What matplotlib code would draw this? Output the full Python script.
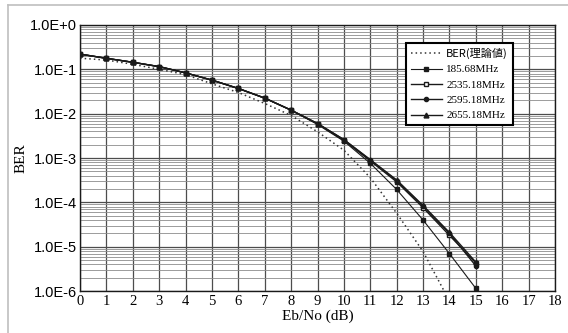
import numpy as np
import matplotlib
matplotlib.use("Agg")
import matplotlib.pyplot as plt
from matplotlib.lines import Line2D
from matplotlib.ticker import LogLocator, NullFormatter

# data
ebno = [0, 1, 2, 3, 4, 5, 6, 7, 8, 9, 10, 11, 12, 13, 14, 15]
ber_185 = [0.22, 0.177, 0.144, 0.115, 0.083, 0.057, 0.037, 0.0224, 0.012,
           0.0057, 0.0024, 7.6e-4, 1.95e-4, 4.0e-5, 7.0e-6, 1.15e-6]
ber_2535 = [0.22, 0.177, 0.144, 0.115, 0.083, 0.057, 0.037, 0.0224, 0.012,
            0.0059, 0.0025, 8.6e-4, 2.9e-4, 7.6e-5, 1.8e-5, 4.3e-6]
ber_2595 = [0.22, 0.177, 0.144, 0.115, 0.083, 0.057, 0.037, 0.0224, 0.012,
            0.006, 0.0026, 9.0e-4, 3.1e-4, 8.2e-5, 2.0e-5, 3.7e-6]
ber_2655 = [0.22, 0.177, 0.144, 0.115, 0.083, 0.057, 0.037, 0.0224, 0.012,
            0.006, 0.0026, 9.2e-4, 3.2e-4, 8.5e-5, 2.1e-5, 4.5e-6]

theory_x = [0, 1, 2, 3, 4, 5, 6, 7, 8, 9, 10, 11, 12, 13, 13.8]
theory_ber = [0.178, 0.162, 0.13, 0.1, 0.076, 0.047, 0.030, 0.017, 0.0091,
              0.0039, 0.0015, 3.6e-4, 5.7e-5, 7.8e-6, 1.0e-6]

ytick_vals = [1e0, 1e-1, 1e-2, 1e-3, 1e-4, 1e-5, 1e-6]
ytick_labels = ["1.0E+0", "1.0E-1", "1.0E-2", "1.0E-3", "1.0E-4", "1.0E-5", "1.0E-6"]
xticks = list(range(0, 19))

fig = plt.figure(figsize=(5.68, 3.33), dpi=100)
ax = fig.add_axes([0.141, 0.126, 0.836, 0.799])

# light frame of the scanned page
fig.add_artist(Line2D([8 / 568, 8 / 568], [0, 1 - 5 / 333], color="0.75", lw=1.2))
fig.add_artist(Line2D([8 / 568, 1], [1 - 5 / 333, 1 - 5 / 333], color="0.75", lw=1.2))

ax.set_yscale("log")
ax.set_xlim(0, 18)
ax.set_ylim(1e-6, 1e0)

ax.plot(theory_x, theory_ber, linestyle=(0, (1, 2)), color="0.2", lw=1.1,
        label="BER(理論値)")
ax.plot(ebno, ber_185, "-s", color="0.1", lw=0.8, ms=3.5, label="185.68MHz")
ax.plot(ebno, ber_2535, "-s", color="0.1", lw=1.0, ms=3.5, mfc="white",
        label="2535.18MHz")
ax.plot(ebno, ber_2595, "-o", color="0.1", lw=1.0, ms=3.0, label="2595.18MHz")
ax.plot(ebno, ber_2655, "-^", color="0.1", lw=1.0, ms=3.5, label="2655.18MHz")

ax.set_xticks(xticks)
ax.set_xticklabels([str(v) for v in xticks], family="Liberation Serif", fontsize=10.5)
ax.set_yticks(ytick_vals)
ax.set_yticklabels(ytick_labels, family="Liberation Sans", fontsize=10.5)
ax.yaxis.set_minor_locator(LogLocator(base=10, subs=np.arange(2, 10), numticks=20))
ax.yaxis.set_minor_formatter(NullFormatter())
ax.tick_params(which="both", length=0)
ax.tick_params(axis="x", pad=3)
ax.tick_params(axis="y", pad=2)

ax.grid(which="major", color="0.3", lw=0.9)
ax.grid(which="minor", axis="y", color="0.55", lw=0.6)
ax.set_axisbelow(True)
for s in ax.spines.values():
    s.set_color("0.1")
    s.set_linewidth(1.0)

ax.set_xlabel("Eb/No (dB)", family="Liberation Serif", fontsize=11, labelpad=1)
ax.set_ylabel("BER", family="Liberation Serif", fontsize=11, labelpad=2)

leg = ax.legend(loc="upper right", bbox_to_anchor=(513 / 568, 1 - 43 / 333),
                bbox_transform=fig.transFigure, borderaxespad=0,
                prop={"family": ["Liberation Serif", "Noto Sans CJK JP"], "size": 8},
                handlelength=2.8, handletextpad=0.4, labelspacing=0.5,
                borderpad=0.45, fancybox=False, framealpha=1, edgecolor="black")
leg.get_frame().set_linewidth(1.5)
leg.get_texts()[0].set_family(["Noto Sans CJK JP", "DejaVu Sans"])

fig.savefig("out.png", dpi=100)
